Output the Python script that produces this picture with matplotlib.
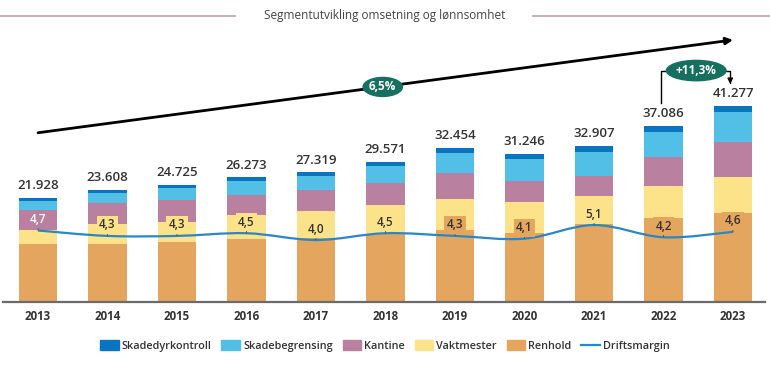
import matplotlib
matplotlib.use("Agg")
import matplotlib.pyplot as plt
import numpy as np
from matplotlib.path import Path
from matplotlib.patches import PathPatch, Patch
from matplotlib.lines import Line2D

plt.rcParams['font.family'] = ['Open Sans', 'DejaVu Sans']

# data (MNOK)
years = ['2013', '2014', '2015', '2016', '2017', '2018', '2019', '2020', '2021', '2022', '2023']
totals = [21928, 23608, 24725, 26273, 27319, 29571, 32454, 31246, 32907, 37086, 41277]
renhold = [12190, 12220, 12540, 13240, 13460, 14270, 15230, 14520, 16430, 17610, 18810]
vaktmester = [3020, 4150, 4370, 5140, 5620, 6180, 6510, 6540, 5960, 6860, 7580]
kantine = [4150, 4430, 4650, 4230, 4440, 4570, 5460, 4500, 4210, 6100, 7370]
skadebegrensing = [1830, 2110, 2470, 2960, 3100, 3710, 4130, 4640, 5050, 5260, 6190]
skadedyrkontroll = [740, 700, 700, 700, 700, 840, 1120, 1050, 1260, 1260, 1330]
driftsmargin = [4.7, 4.3, 4.3, 4.5, 4.0, 4.5, 4.3, 4.1, 5.1, 4.2, 4.6]
margin_label_bg = ['kantine', 'vakt', 'vakt', 'vakt', 'vakt', 'vakt',
                   'renhold', 'renhold', 'vakt', 'renhold', 'renhold']
cagr_text = '6,5%'
yoy_text = '+11,3%'

colors = {
    'renhold': '#e4a55e',
    'vakt': '#fce389',
    'kantine': '#b9809f',
    'skadebeg': '#52bfe7',
    'skadedyr': '#0b74c1',
    'line': '#2a87c6',
}
teal = '#16705f'
text_col = '#333333'

fig = plt.figure(figsize=(7.7, 3.72), dpi=100)
ax = fig.add_axes([3 / 770, 70 / 372, 762 / 770, 282 / 372])
x = np.arange(len(years))
w = 0.56

series = [(renhold, 'renhold', 'Renhold'),
          (vaktmester, 'vakt', 'Vaktmester'),
          (kantine, 'kantine', 'Kantine'),
          (skadebegrensing, 'skadebeg', 'Skadebegrensing'),
          (skadedyrkontroll, 'skadedyr', 'Skadedyrkontroll')]
bottom = np.zeros(len(years))
for vals, key, name in series:
    ax.bar(x, vals, w, bottom=bottom, color=colors[key], linewidth=0, zorder=2)
    bottom += np.array(vals)

for xi, top, tot in zip(x, bottom, totals):
    ax.annotate(f"{tot:,}".replace(',', '.'), (xi, top), xytext=(0, 4),
                textcoords='offset points', ha='center', va='bottom',
                fontsize=9.5, fontweight='semibold', color=text_col)

ax.set_xlim(-0.504, 10.46)
ax.set_ylim(0, 59400)
ax.set_xticks(x)
ax.set_xticklabels(years, fontsize=8.3, fontweight='bold', color=text_col)
ax.tick_params(axis='x', length=0, pad=6)
ax.set_yticks([])
for s in ['top', 'left', 'right']:
    ax.spines[s].set_visible(False)
ax.spines['bottom'].set_color('#6b6b6b')
ax.spines['bottom'].set_linewidth(1.6)

# big trend arrow with CAGR
ax.annotate('', xy=(10.0, 55200), xytext=(0.0, 35650),
            arrowprops=dict(arrowstyle='-|>', color='black', lw=2.0,
                            mutation_scale=10, shrinkA=0, shrinkB=0), zorder=3)
ax.text(4.96, 45300, cagr_text, ha='center', va='center', fontsize=8.5,
        fontweight='bold', color='white', zorder=4,
        bbox=dict(boxstyle='ellipse,pad=0.06', fc=teal, ec='none'))

# last-year growth bracket
ax.plot([8.97, 8.97, 9.3], [41900, 48750, 48750], color='black', lw=1.0, zorder=3)
ax.annotate('', xy=(9.96, 45900), xytext=(9.62, 48750),
            arrowprops=dict(arrowstyle='-|>', color='black', lw=1.0,
                            mutation_scale=8, shrinkA=0, shrinkB=0,
                            connectionstyle='angle,angleA=0,angleB=90,rad=0'), zorder=3)
ax.text(9.47, 48750, yoy_text, ha='center', va='center', fontsize=8.5,
        fontweight='bold', color='white', zorder=4,
        bbox=dict(boxstyle='ellipse,pad=0.1', fc=teal, ec='none'))

# driftsmargin on secondary axis, smooth curve through the points
ax2 = ax.twinx()
ax2.set_ylim(-0.559, 20.18)
ax2.set_axis_off()
pts = np.column_stack([x, driftsmargin]).astype(float)
ext = np.vstack([pts[0], pts, pts[-1]])
verts = [tuple(pts[0])]
codes = [Path.MOVETO]
for i in range(len(pts) - 1):
    p0, p1, p2, p3 = ext[i], ext[i + 1], ext[i + 2], ext[i + 3]
    verts += [tuple(p1 + (p2 - p0) / 6), tuple(p2 - (p3 - p1) / 6), tuple(p2)]
    codes += [Path.CURVE4] * 3
ax2.add_patch(PathPatch(Path(verts, codes), fc='none', ec=colors['line'], lw=1.6, zorder=5))

for xi, v, bg in zip(x, driftsmargin, margin_label_bg):
    tc = 'white' if bg == 'kantine' else text_col
    ax2.annotate(f"{v:.1f}".replace('.', ','), (xi, v), xytext=(0, 11),
                 textcoords='offset pixels', ha='center', va='center',
                 fontsize=8.5, fontweight='semibold', color=tc, zorder=6,
                 bbox=dict(boxstyle='square,pad=0.2', fc=colors[bg], ec='none'),
                 arrowprops=dict(arrowstyle='-', color='#555555', lw=0.6,
                                 shrinkA=0, shrinkB=0))

# title with side rules
ty = 1 - 16 / 372
fig.text(0.5, ty, 'Segmentutvikling omsetning og lønnsomhet', ha='center', va='center',
         fontsize=8.5, color='#444444')
fig.add_artist(Line2D([0, 235 / 770], [ty, ty], color='#c99aaa', lw=1.2))
fig.add_artist(Line2D([533 / 770, 1], [ty, ty], color='#c99aaa', lw=1.2))

# legend
handles = [Patch(color=colors['skadedyr'], label='Skadedyrkontroll'),
           Patch(color=colors['skadebeg'], label='Skadebegrensing'),
           Patch(color=colors['kantine'], label='Kantine'),
           Patch(color=colors['vakt'], label='Vaktmester'),
           Patch(color=colors['renhold'], label='Renhold'),
           Line2D([], [], color=colors['line'], lw=1.6, label='Driftsmargin')]
leg = fig.legend(handles=handles, loc='center', bbox_to_anchor=(0.5, 26 / 372), ncol=6,
                 frameon=False, handlelength=1.7, handleheight=1.1,
                 handletextpad=0.3, columnspacing=0.9,
                 prop={'weight': 'semibold', 'size': 7.8})
for t in leg.get_texts():
    t.set_color(text_col)

fig.savefig('out.png', dpi=100)
